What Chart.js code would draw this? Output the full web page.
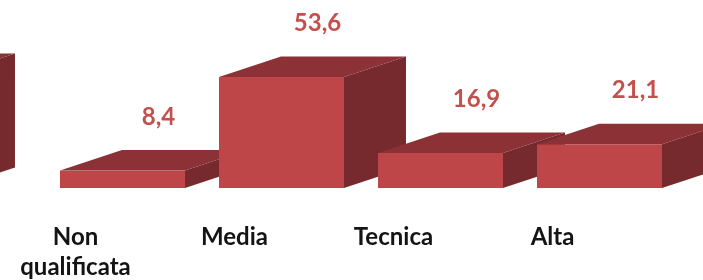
<!DOCTYPE html>
<html><head><meta charset="utf-8">
<script src="https://cdn.jsdelivr.net/npm/chart.js@4"></script>
<style>
html,body{margin:0;padding:0;background:#fff;overflow:hidden}
#wrap{position:relative;width:703px;height:280px;overflow:hidden;background:#fff}
#main{position:absolute;left:0;top:0}
#prev{position:absolute;left:-300px;top:0}
</style></head><body>
<div id="wrap">
<canvas id="prev" width="320" height="280"></canvas>
<canvas id="main" width="703" height="280"></canvas>
</div>
<script>
// ---- data ----
const categories = [['Non', 'qualificata'], 'Media', 'Tecnica', 'Alta'];
const values = [8.4, 53.6, 16.9, 21.1];
// partially visible bar from the neighbouring (cropped) chart on the left
const prevCategories = [''];
const prevValues = [55.0];
const yMin = 0;
const yMax = 90.8;

// ---- styles ----
const FRONT = '#BE4548';
const TOP = '#8C3236';
const SIDE = '#772A2D';
const LABEL = '#C4504E';
const DX = 62, DY = -20.5;

const bars3d = {
  id: 'bars3d',
  afterDatasetsDraw(chart, args, opts) {
    const ctx = chart.ctx;
    const meta = chart.getDatasetMeta(0);
    const vals = chart.data.datasets[0].data;
    ctx.save();
    const geo = [];
    meta.data.forEach((bar) => {
      const p = bar.getProps(['x', 'y', 'base', 'width'], true);
      const l = p.x - p.width / 2, r = p.x + p.width / 2;
      geo.push(p);
      ctx.fillStyle = FRONT;
      ctx.fillRect(l, p.y, p.width, p.base - p.y);
      ctx.fillStyle = TOP;
      ctx.beginPath();
      ctx.moveTo(l, p.y); ctx.lineTo(l + DX, p.y + DY); ctx.lineTo(r + DX, p.y + DY); ctx.lineTo(r, p.y);
      ctx.closePath(); ctx.fill();
      ctx.fillStyle = SIDE;
      ctx.beginPath();
      ctx.moveTo(r, p.y); ctx.lineTo(r + DX, p.y + DY); ctx.lineTo(r + DX, p.base + DY); ctx.lineTo(r, p.base);
      ctx.closePath(); ctx.fill();
    });
    ctx.fillStyle = LABEL;
    ctx.font = 'bold 24px Lato';
    ctx.textAlign = 'center';
    ctx.textBaseline = 'alphabetic';
    geo.forEach((p, i) => {
      const txt = vals[i].toFixed(1).replace('.', ',');
      ctx.fillText(txt, p.x + 36, p.y - 46);
    });
    ctx.restore();
  }
};

function makeOptions(showTicks, padL, padR) {
  return {
    responsive: false,
    animation: false,
    events: [],
    layout: { padding: { left: padL, right: padR, top: 0, bottom: 0 } },
    plugins: { legend: { display: false }, tooltip: { enabled: false } },
    scales: {
      x: {
        type: 'category',
        offset: true,
        grid: { display: false, drawTicks: false },
        border: { display: false },
        ticks: {
          display: showTicks,
          font: { family: 'Lato', weight: 'bold', size: 24, lineHeight: 1.25 },
          color: '#141414',
          padding: 34,
          labelOffset: -47,
          maxRotation: 0, minRotation: 0, autoSkip: false
        },
        afterFit(s) { s.height = 92; }
      },
      y: { display: false, min: yMin, max: yMax }
    }
  };
}

function build() {
  new Chart(document.getElementById('main'), {
    type: 'bar',
    data: {
      labels: categories,
      datasets: [{
        data: values,
        backgroundColor: 'rgba(0,0,0,0)',
        borderWidth: 0,
        barPercentage: 0.786,
        categoryPercentage: 1
      }]
    },
    options: makeOptions(true, 43, 24),
    plugins: [bars3d]
  });
  new Chart(document.getElementById('prev'), {
    type: 'bar',
    data: {
      labels: prevCategories,
      datasets: [{
        data: prevValues,
        backgroundColor: 'rgba(0,0,0,0)',
        borderWidth: 0,
        barPercentage: 0.786,
        categoryPercentage: 1
      }]
    },
    options: makeOptions(false, 111, 50),
    plugins: [bars3d]
  });
}

Promise.race([
  document.fonts.load('bold 24px Lato'),
  new Promise(r => setTimeout(r, 1500))
]).then(build, build);
</script>
</body></html>
